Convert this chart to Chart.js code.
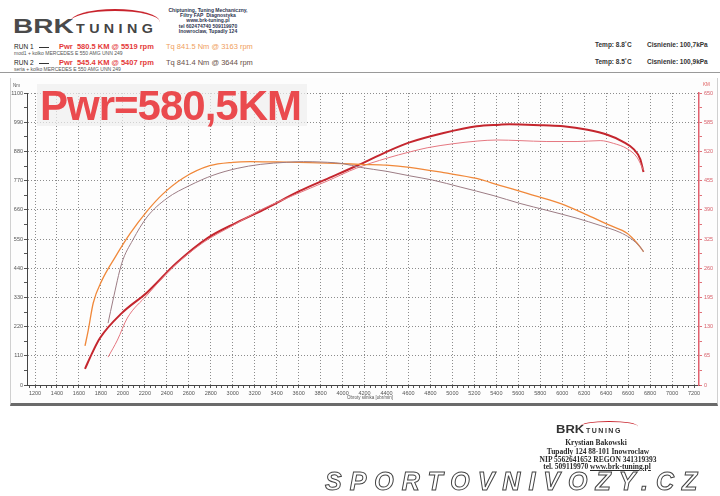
<!DOCTYPE html>
<html>
<head>
<meta charset="utf-8">
<script src="https://cdn.jsdelivr.net/npm/chart.js"></script>
<style>
    body { margin: 0; background: #fff; font-family: "Liberation Sans", Arial, sans-serif; }
    #page { position: relative; width: 720px; height: 496px; overflow: hidden; background: #fff; }
    .t { position: absolute; white-space: nowrap; line-height: 1; }
    .c { transform: translateX(-50%); text-align: center; }
    #frame { position: absolute; left: 10px; top: 78px; width: 706px; height: 325px;
             border-left: 1px solid #d0d0d0; border-right: 1px solid #d0d0d0; border-bottom: 3px solid #6a6a6a; background: #fdfdfd; }
    #wrap { position: absolute; left: 0; top: 0; width: 720px; height: 496px; }
    .serif { font-family: "Liberation Serif", "Times New Roman", serif; font-weight: bold; color: #2a2a2a; }
</style>
</head>
<body>
<div id="page">
    <!-- header -->
    <div style="position:absolute;left:70px;top:9px;width:90px;height:24px;border-top:2px solid #c8232c;border-radius:50% 50% 0 0;"></div>
    <div class="t" style="left:13px;top:16px;font-size:20px;font-weight:bold;color:#4a4a4a;transform:scaleX(1.4);transform-origin:left;">BRK</div>
    <div class="t" style="left:76px;top:22px;font-size:13px;font-weight:bold;color:#444;letter-spacing:4px;transform:scaleX(1.1);transform-origin:left;">TUNING</div>

    <div class="t c" style="left:208px;top:8px;font-size:5px;font-weight:bold;color:#2d3550;line-height:5.2px;">
        Chiptuning, Tuning Mechaniczny,<br>Filtry FAP &nbsp;Diagnostyka<br>www.brk-tuning.pl<br>tel 602474740 509119970<br>Inowroclaw, Tupadly 124
    </div>

    <div class="t" style="left:14px;top:44px;font-size:6.5px;color:#222;">RUN 1</div>
    <div style="position:absolute;left:39px;top:47px;width:10px;height:1px;background:#333;"></div>
    <div class="t" style="left:59px;top:43px;font-size:7.5px;font-weight:bold;color:#e43a3a;">Pwr &nbsp;580.5 KM @ 5519 rpm</div>
    <div class="t" style="left:166px;top:43px;font-size:7.5px;color:#f0a05c;">Tq 841.5 Nm @ 3163 rpm</div>
    <div class="t" style="left:14px;top:51px;font-size:5px;color:#555;">mod1 + kolko MERCEDES E 550 AMG UNN 249</div>

    <div class="t" style="left:14px;top:60px;font-size:6.5px;color:#222;">RUN 2</div>
    <div style="position:absolute;left:39px;top:63px;width:10px;height:1px;background:#333;"></div>
    <div class="t" style="left:59px;top:59px;font-size:7.5px;font-weight:bold;color:#e43a3a;">Pwr &nbsp;545.4 KM @ 5407 rpm</div>
    <div class="t" style="left:166px;top:59px;font-size:7.5px;color:#6a5048;">Tq 841.4 Nm @ 3644 rpm</div>
    <div class="t" style="left:14px;top:67px;font-size:5px;color:#555;">seria + kolko MERCEDES E 550 AMG UNN 249</div>

    <div class="t" style="left:595px;top:42px;font-size:6.5px;font-weight:bold;color:#333;">Temp: 8.8˚C</div>
    <div class="t" style="left:647px;top:42px;font-size:6.5px;font-weight:bold;color:#333;">Cisnienie: 100,7kPa</div>
    <div class="t" style="left:595px;top:59px;font-size:6.5px;font-weight:bold;color:#333;">Temp: 8.5˚C</div>
    <div class="t" style="left:647px;top:59px;font-size:6.5px;font-weight:bold;color:#333;">Cisnienie: 100,9kPa</div>

    <div style="position:absolute;left:0;top:72px;width:720px;height:1px;background:#9a9a9a;"></div>

    <div id="frame"></div>
    <div id="wrap"><canvas id="dynoChart"></canvas></div>

    <div class="t" style="left:13px;top:84px;font-size:4.5px;color:#555;">Nm</div>
    <div class="t" style="left:703px;top:83px;font-size:4.5px;color:#d55;">KM</div>
    <div class="t" style="left:347px;top:396px;font-size:4.5px;color:#555;">Obroty silnika [obr/min]</div>

    <div class="t" style="left:37px;top:84px;width:270px;height:42px;background:rgba(238,238,238,0.7);"></div>
    <div class="t" style="left:40px;top:85px;font-size:42px;line-height:42px;font-weight:bold;color:#ea4a4e;letter-spacing:-1px;">Pwr=580,5KM</div>

    <!-- stamp -->
    <div style="position:absolute;left:580px;top:421px;width:58px;height:10px;border-top:1.5px solid #c8232c;border-radius:50% 50% 0 0;"></div>
    <div class="t" style="left:556px;top:425px;font-size:10px;font-weight:bold;color:#333;transform:scaleX(1.3);transform-origin:left;">BRK</div>
    <div class="t" style="left:586px;top:427px;font-size:7px;font-weight:bold;color:#333;letter-spacing:1.5px;">TUNING</div>
    <div class="t c serif" style="left:596px;top:439px;font-size:7.5px;">Krystian Bakowski</div>
    <div class="t c serif" style="left:598px;top:448px;font-size:7.5px;">Tupadly 124 88-101 Inowroclaw</div>
    <div class="t c serif" style="left:598px;top:456px;font-size:7.5px;">NIP 5562641652 REGON 341319393</div>
    <div class="t c serif" style="left:597px;top:463px;font-size:7.5px;">tel. 509119970 <u>www.brk-tuning.pl</u></div>

    <div class="t" style="left:325px;top:469px;font-size:25px;font-weight:bold;font-style:italic;letter-spacing:8px;color:rgba(255,255,255,0.6);-webkit-text-stroke:1px #444;">SPORTOVNIVOZY.CZ</div>
</div>

<script>
// RUN 1 - power [KM]
var pwr1Rpm = [1655, 1720, 1790, 1990, 2220, 2490, 2770, 3040, 3310, 3610, 3860, 4130, 4400, 4610, 4920, 5220, 5430, 5519, 5620, 5830, 6010, 6230, 6410, 6550, 6650, 6710, 6740];
var pwr1 = [36, 71, 104, 160, 206, 272, 327, 362, 394, 432, 459, 488, 519, 540, 561, 576, 579.5, 580.5, 580, 578, 576, 568, 557, 542, 525, 503, 474];

// RUN 1 - torque [Nm]
var tq1Rpm = [1655, 1685, 1730, 1810, 1930, 2065, 2220, 2365, 2550, 2790, 3000, 3163, 3400, 3700, 4000, 4160, 4400, 4610, 4920, 5220, 5430, 5680, 5980, 6230, 6430, 6590, 6680, 6740];
var tq1 = [147, 207, 309, 395, 482, 570, 655, 720, 780, 826, 839, 841.5, 840, 838, 834, 831, 828, 820, 800, 778, 752, 722, 684, 640, 602, 572, 535, 502];

// RUN 2 - power [KM]
var pwr2Rpm = [1865, 1950, 2040, 2220, 2455, 2730, 3000, 3275, 3550, 3860, 4130, 4405, 4615, 4770, 5005, 5225, 5407, 5615, 5860, 6135, 6345, 6465, 6590, 6680, 6740];
var pwr2 = [62, 100, 149, 200, 262, 317, 355, 392, 422, 454, 483, 505, 519, 528, 537, 543, 545.4, 544, 542, 542, 544, 538, 526, 507, 478];

// RUN 2 - torque [Nm]
var tq2Rpm = [1865, 1910, 1990, 2090, 2220, 2400, 2610, 2820, 3040, 3250, 3490, 3644, 3730, 4000, 4160, 4400, 4610, 4820, 5070, 5370, 5615, 5860, 6135, 6345, 6525, 6620, 6710, 6740];
var tq2 = [233, 320, 459, 546, 633, 703, 752, 790, 816, 831, 839, 841.4, 841, 834, 820, 805, 788, 772, 746, 714, 684, 658, 628, 601, 575, 553, 520, 502];

// axes
var rpmMin = 1127, rpmMax = 7245, rpmStep = 200;
var nmMax = 1100, nmStep = 110;
var kmMax = 650, kmStep = 65;

function pts(xs, ys) {
    return xs.map(function(x, i) { return { x: x, y: ys[i] }; });
}
function isMult(v, step) {
    return Math.abs(v / step - Math.round(v / step)) < 1e-6;
}

document.addEventListener('DOMContentLoaded', function() {
    var ctx = document.getElementById('dynoChart').getContext('2d');
    var tickFont = { family: 'Liberation Sans', size: 5.5 };
    var gridMajor = '#8c8c8c';

    new Chart(ctx, {
        type: 'line',
        data: {
            datasets: [{
                label: 'RUN 2 Tq',
                data: pts(tq2Rpm, tq2),
                borderColor: '#9c7c84',
                borderWidth: 1,
                yAxisID: 'y'
            }, {
                label: 'RUN 1 Tq',
                data: pts(tq1Rpm, tq1),
                borderColor: '#f0883a',
                borderWidth: 1.3,
                yAxisID: 'y'
            }, {
                label: 'RUN 2 Pwr',
                data: pts(pwr2Rpm, pwr2),
                borderColor: '#e57780',
                borderWidth: 1,
                yAxisID: 'y2'
            }, {
                label: 'RUN 1 Pwr',
                data: pts(pwr1Rpm, pwr1),
                borderColor: '#c4262e',
                borderWidth: 2,
                yAxisID: 'y2'
            }]
        },
        options: {
            responsive: true,
            maintainAspectRatio: false,
            animation: false,
            layout: { padding: { left: 0, right: 0, top: 93, bottom: 91 } },
            elements: {
                point: { radius: 0 },
                line: { cubicInterpolationMode: 'monotone', fill: false }
            },
            plugins: {
                legend: { display: false },
                tooltip: { enabled: false }
            },
            scales: {
                x: {
                    type: 'linear',
                    min: rpmMin,
                    max: rpmMax,
                    afterFit: function(s) { s.height = 20; },
                    border: { color: '#444', width: 1, dash: [1, 2] },
                    grid: {
                        color: function(c) { return c.tick && isMult(c.tick.value, rpmStep) ? gridMajor : 'rgba(0,0,0,0)'; },
                        tickColor: '#555',
                        tickLength: 3,
                        tickBorderDash: []
                    },
                    ticks: {
                        stepSize: 50,
                        includeBounds: false,
                        autoSkip: false,
                        maxRotation: 0,
                        padding: 2,
                        color: '#555',
                        font: tickFont,
                        callback: function(v) { return isMult(v, rpmStep) ? String(v) : ''; }
                    }
                },
                y: {
                    position: 'left',
                    min: 0,
                    max: nmMax,
                    afterFit: function(s) { s.width = 27; },
                    border: { color: '#444', width: 1, dash: [1, 2] },
                    grid: {
                        color: function(c) { return c.tick && isMult(c.tick.value, nmStep) ? gridMajor : 'rgba(0,0,0,0)'; },
                        tickColor: '#555',
                        tickLength: 3,
                        tickBorderDash: []
                    },
                    ticks: {
                        stepSize: nmStep / 2,
                        autoSkip: false,
                        padding: 1,
                        color: '#555',
                        font: tickFont,
                        callback: function(v) { return isMult(v, nmStep) ? String(v) : ''; }
                    }
                },
                y2: {
                    position: 'right',
                    min: 0,
                    max: kmMax,
                    afterFit: function(s) { s.width = 21; },
                    border: { color: '#e0606e', width: 1.5 },
                    grid: {
                        drawOnChartArea: false,
                        tickColor: '#e07078',
                        tickLength: 3
                    },
                    ticks: {
                        stepSize: kmStep / 2,
                        autoSkip: false,
                        padding: 2,
                        color: '#d8606a',
                        font: tickFont,
                        callback: function(v) { return isMult(v, kmStep) ? String(v) : ''; }
                    }
                }
            }
        }
    });
});
</script>
</body>
</html>
